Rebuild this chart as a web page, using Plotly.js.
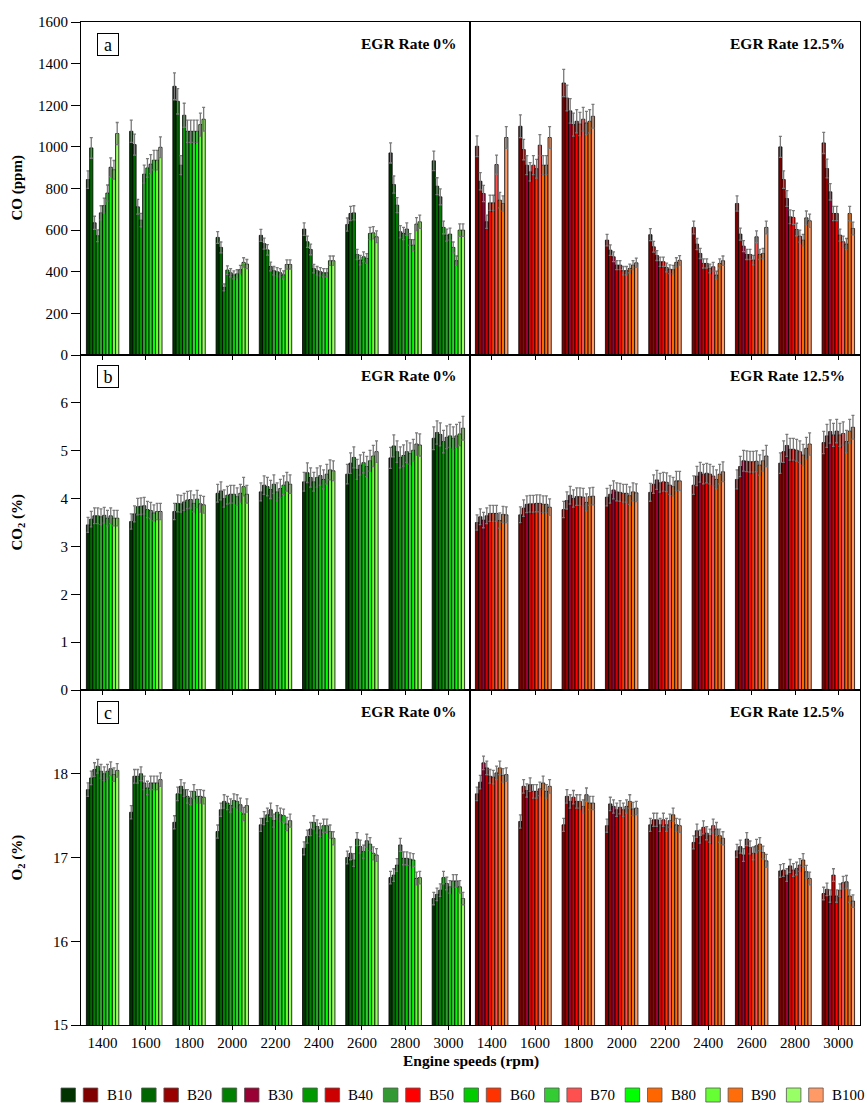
<!DOCTYPE html>
<html>
<head>
<meta charset="utf-8">
<script src="https://cdn.plot.ly/plotly-3.0.1.min.js"></script>
<style>html,body{margin:0;padding:0;background:#fff;}</style>
</head>
<body>
<div id="chart" style="width:867px;height:1103px;"></div>
<script>
// ---------- DATA ----------
const speeds = ['1400','1600','1800','2000','2200','2400','2600','2800','3000'];
const fuels = ['B10','B20','B30','B40','B50','B60','B70','B80','B90','B100'];
const greenColors = ['#003300','#006600','#008000','#009900','#339933','#00cc00','#33cc33','#00ff00','#66ff33','#99ff66'];
const redColors   = ['#800000','#990000','#990033','#cc0000','#ff0000','#ff3300','#ff5050','#ff6600','#ff6d0a','#ff9966'];

// Each row = one engine speed, values for B10..B100
const coEgr0 = [
  [843, 995, 635, 573, 683, 718, 778, 902, 890, 1064],
  [1075, 1011, 712, 648, 869, 899, 917, 936, 936, 998],
  [1291, 1219, 912, 1152, 1075, 1075, 1075, 1075, 1107, 1133],
  [565, 517, 325, 408, 395, 385, 390, 410, 445, 437],
  [575, 535, 505, 425, 405, 400, 395, 385, 435, 435],
  [605, 544, 507, 415, 405, 400, 395, 395, 453, 453],
  [627, 680, 683, 483, 456, 472, 464, 584, 587, 568],
  [971, 819, 720, 592, 584, 605, 555, 528, 629, 640],
  [933, 811, 760, 613, 576, 581, 517, 453, 600, 600]
];
const coEgr125 = [
  [1003, 835, 776, 640, 731, 731, 915, 744, 728, 1045],
  [1099, 987, 912, 880, 912, 895, 1008, 912, 912, 1045],
  [1307, 1235, 1173, 1107, 1123, 1110, 1133, 1115, 1123, 1147],
  [552, 504, 472, 432, 432, 405, 405, 416, 432, 443],
  [578, 520, 478, 448, 448, 420, 412, 410, 445, 455],
  [613, 533, 488, 440, 440, 416, 424, 384, 440, 453],
  [728, 581, 523, 483, 483, 456, 568, 483, 488, 613],
  [1000, 843, 752, 664, 661, 603, 571, 552, 659, 645],
  [1019, 896, 784, 680, 680, 576, 544, 533, 680, 608]
];
const co2Egr0 = [
  [3.45, 3.57, 3.64, 3.64, 3.62, 3.65, 3.59, 3.64, 3.59, 3.59],
  [3.52, 3.68, 3.83, 3.84, 3.85, 3.77, 3.75, 3.70, 3.73, 3.73],
  [3.73, 3.90, 3.89, 3.93, 3.97, 3.98, 3.90, 3.99, 3.89, 3.87],
  [4.11, 4.16, 4.00, 4.07, 4.09, 4.09, 4.04, 4.11, 4.25, 4.09],
  [4.14, 4.28, 4.25, 4.19, 4.30, 4.14, 4.21, 4.28, 4.35, 4.30],
  [4.35, 4.54, 4.44, 4.35, 4.44, 4.48, 4.40, 4.51, 4.60, 4.58],
  [4.51, 4.74, 4.86, 4.61, 4.70, 4.75, 4.67, 4.79, 4.89, 4.98],
  [4.85, 5.10, 4.98, 4.86, 4.90, 4.98, 4.94, 5.01, 5.14, 5.12],
  [5.26, 5.38, 5.34, 5.19, 5.28, 5.31, 5.26, 5.31, 5.35, 5.47]
];
const co2Egr125 = [
  [3.50, 3.62, 3.55, 3.64, 3.69, 3.69, 3.69, 3.54, 3.67, 3.66],
  [3.66, 3.80, 3.88, 3.89, 3.89, 3.90, 3.90, 3.88, 3.88, 3.82],
  [3.77, 3.96, 4.07, 4.00, 4.04, 4.04, 4.03, 3.92, 4.04, 4.05],
  [4.03, 4.09, 4.18, 4.14, 4.13, 4.11, 4.11, 4.06, 4.14, 4.12],
  [4.13, 4.30, 4.39, 4.33, 4.35, 4.34, 4.28, 4.25, 4.37, 4.37],
  [4.28, 4.47, 4.55, 4.51, 4.53, 4.51, 4.47, 4.40, 4.51, 4.56],
  [4.40, 4.67, 4.79, 4.78, 4.77, 4.77, 4.78, 4.70, 4.79, 4.89],
  [4.74, 4.98, 5.11, 5.03, 5.03, 5.01, 4.98, 4.91, 5.05, 5.14],
  [5.17, 5.31, 5.40, 5.33, 5.41, 5.33, 5.36, 5.19, 5.41, 5.49]
];
const o2Egr0 = [
  [17.81, 17.95, 18.05, 18.09, 18.03, 18.00, 18.03, 18.06, 17.99, 18.04],
  [17.54, 17.97, 17.97, 18.00, 17.89, 17.83, 17.89, 17.89, 17.89, 17.93],
  [17.42, 17.76, 17.85, 17.81, 17.73, 17.71, 17.79, 17.73, 17.73, 17.72],
  [17.31, 17.57, 17.67, 17.65, 17.62, 17.68, 17.67, 17.63, 17.52, 17.62],
  [17.39, 17.47, 17.51, 17.57, 17.44, 17.54, 17.51, 17.50, 17.40, 17.44],
  [17.11, 17.25, 17.34, 17.42, 17.37, 17.33, 17.38, 17.38, 17.31, 17.23],
  [17.00, 17.05, 16.97, 17.22, 17.13, 17.07, 17.20, 17.16, 17.05, 17.03],
  [16.76, 16.79, 16.91, 17.15, 16.99, 16.99, 16.98, 16.97, 16.75, 16.76],
  [16.51, 16.56, 16.61, 16.76, 16.69, 16.65, 16.72, 16.72, 16.65, 16.51]
];
const o2Egr125 = [
  [17.76, 17.90, 18.13, 18.07, 17.97, 17.96, 18.01, 18.07, 17.98, 17.99],
  [17.43, 17.85, 17.80, 17.87, 17.79, 17.79, 17.82, 17.89, 17.79, 17.85],
  [17.39, 17.73, 17.67, 17.72, 17.67, 17.67, 17.61, 17.75, 17.65, 17.65],
  [17.38, 17.64, 17.61, 17.57, 17.60, 17.57, 17.61, 17.67, 17.58, 17.59],
  [17.39, 17.45, 17.45, 17.39, 17.45, 17.39, 17.44, 17.51, 17.39, 17.38],
  [17.18, 17.32, 17.25, 17.36, 17.29, 17.26, 17.38, 17.34, 17.26, 17.23],
  [17.08, 17.13, 17.03, 17.22, 17.12, 17.05, 17.14, 17.16, 17.06, 16.96],
  [16.84, 16.85, 16.79, 16.90, 16.85, 16.87, 16.91, 16.97, 16.83, 16.75],
  [16.57, 16.62, 16.54, 16.79, 16.54, 16.61, 16.70, 16.71, 16.54, 16.48]
];
// error bar size (percent of value) per panel
const errPct = [5, 4.5, 0.45];

const panelLetters = ['a','b','c'];
const egrLabels = ['EGR Rate 0%','EGR Rate 12.5%'];
const yTitles = ['<b>CO (ppm)</b>','<b>CO<sub>2</sub> (%)</b>','<b>O<sub>2</sub> (%)</b>'];
const yRanges = [[0,1600],[0,7],[15,19]];
const yTicks = [[0,200,400,600,800,1000,1200,1400,1600],[0,1,2,3,4,5,6],[15,16,17,18]];
const xTitle = '<b>Engine speeds (rpm)</b>';

// ---------- BUILD ----------
const FONT = 'Liberation Serif, Times New Roman, serif';
const W = 867, H = 1103, ML = 81, MR = 7, MT = 22, MB = 78;
const PW = W - ML - MR, PH = H - MT - MB;
const px = x => (x - ML) / PW;
const py = y => (H - MB - y) / PH;

const panels = [[coEgr0, coEgr125],[co2Egr0, co2Egr125],[o2Egr0, o2Egr125]];
const palettes = [greenColors, redColors];
const xSplit = px(470);
const rowDomains = [[py(355),1],[py(690),py(355)],[0,py(690)]];

const traces = [];
const layout = {
  width: W, height: H,
  margin: {l: ML, r: MR, t: MT, b: MB, pad: 0},
  paper_bgcolor: '#fff', plot_bgcolor: '#fff',
  barmode: 'group', bargap: 0.25, bargroupgap: 0,
  showlegend: false,
  font: {family: FONT, size: 15, color: '#000'},
  annotations: [], shapes: []
};

for (let r = 0; r < 3; r++) {
  for (let h = 0; h < 2; h++) {
    const n = r * 2 + h + 1;
    const sx = n === 1 ? '' : String(n);
    const table = panels[r][h];
    fuels.forEach((f, i) => {
      traces.push({
        type: 'bar', name: f,
        x: speeds,
        y: speeds.map((s, j) => table[j][i]),
        xaxis: 'x' + sx, yaxis: 'y' + sx,
        marker: {color: palettes[h][i], line: {color: '#000', width: 0.8}},
        error_y: {type: 'percent', value: errPct[r], color: '#7a7a7a', thickness: 1.3, width: 1.5},
        hoverinfo: 'x+y+name'
      });
    });
    layout['xaxis' + sx] = {
      domain: h ? [xSplit, 1] : [0, xSplit],
      anchor: 'y' + sx,
      type: 'category', categoryorder: 'array', categoryarray: speeds,
      range: [-0.5, 8.5],
      showline: true, mirror: true, linecolor: '#000', linewidth: 1,
      ticks: 'outside', ticklen: 4, tickcolor: '#000', tickwidth: 1,
      showticklabels: r === 2,
      tickfont: {family: FONT, size: 15, color: '#000'},
      showgrid: false, zeroline: false, fixedrange: true
    };
    layout['yaxis' + sx] = {
      domain: rowDomains[r],
      anchor: 'x' + sx,
      range: yRanges[r],
      tickmode: 'array', tickvals: yTicks[r],
      showline: true, mirror: true, linecolor: '#000', linewidth: 1,
      ticks: h ? '' : 'outside', ticklen: 9, tickcolor: '#000', tickwidth: 1,
      showticklabels: !h,
      tickfont: {family: FONT, size: 15, color: '#000'},
      showgrid: false, zeroline: false, fixedrange: true
    };
  }
}

// panel labels, EGR labels, y titles
const rowTop = [22, 355, 690];
const rowMid = [188.5, 522.5, 857.5];
for (let r = 0; r < 3; r++) {
  layout.annotations.push({
    xref: 'paper', yref: 'paper', x: px(107.5), y: py(rowTop[r] + 22),
    xanchor: 'center', yanchor: 'middle', showarrow: false,
    text: panelLetters[r], font: {family: FONT, size: 18, color: '#000'},
    bordercolor: '#000', borderwidth: 1, borderpad: 0, width: 20, height: 21, bgcolor: '#fff'
  });
  layout.annotations.push({
    xref: 'paper', yref: 'paper', x: px(459), y: py(rowTop[r] + 21),
    xanchor: 'right', yanchor: 'middle', showarrow: false,
    text: '<b>' + egrLabels[0] + '</b>', font: {family: FONT, size: 15.5, color: '#000'}
  });
  layout.annotations.push({
    xref: 'paper', yref: 'paper', x: px(847), y: py(rowTop[r] + 21),
    xanchor: 'right', yanchor: 'middle', showarrow: false,
    text: '<b>' + egrLabels[1] + '</b>', font: {family: FONT, size: 15.5, color: '#000'}
  });
  layout.annotations.push({
    xref: 'paper', yref: 'paper', x: px(17), y: py(rowMid[r]),
    xanchor: 'center', yanchor: 'middle', showarrow: false, textangle: -90,
    text: yTitles[r], font: {family: FONT, size: 15, color: '#000'}
  });
}
layout.annotations.push({
  xref: 'paper', yref: 'paper', x: px(470.5), y: py(1061),
  xanchor: 'center', yanchor: 'middle', showarrow: false,
  text: xTitle, font: {family: FONT, size: 15.5, color: '#000'}
});

// legend: green swatch + red swatch + fuel label
fuels.forEach((f, i) => {
  const gx = 61 + 80.6 * i;
  [[gx, greenColors[i]], [gx + 22.3, redColors[i]]].forEach(([x0, c]) => {
    layout.shapes.push({
      type: 'rect', xref: 'paper', yref: 'paper', layer: 'above',
      x0: px(x0), x1: px(x0 + 14.5), y0: py(1102), y1: py(1088),
      fillcolor: c, line: {color: '#555', width: 0.8}
    });
  });
  layout.annotations.push({
    xref: 'paper', yref: 'paper', x: px(gx + 43.5), y: py(1095),
    xanchor: 'left', yanchor: 'middle', showarrow: false,
    text: f, font: {family: FONT, size: 15, color: '#000'}
  });
});

Plotly.newPlot('chart', traces, layout, {staticPlot: true, displayModeBar: false});
</script>
</body>
</html>
